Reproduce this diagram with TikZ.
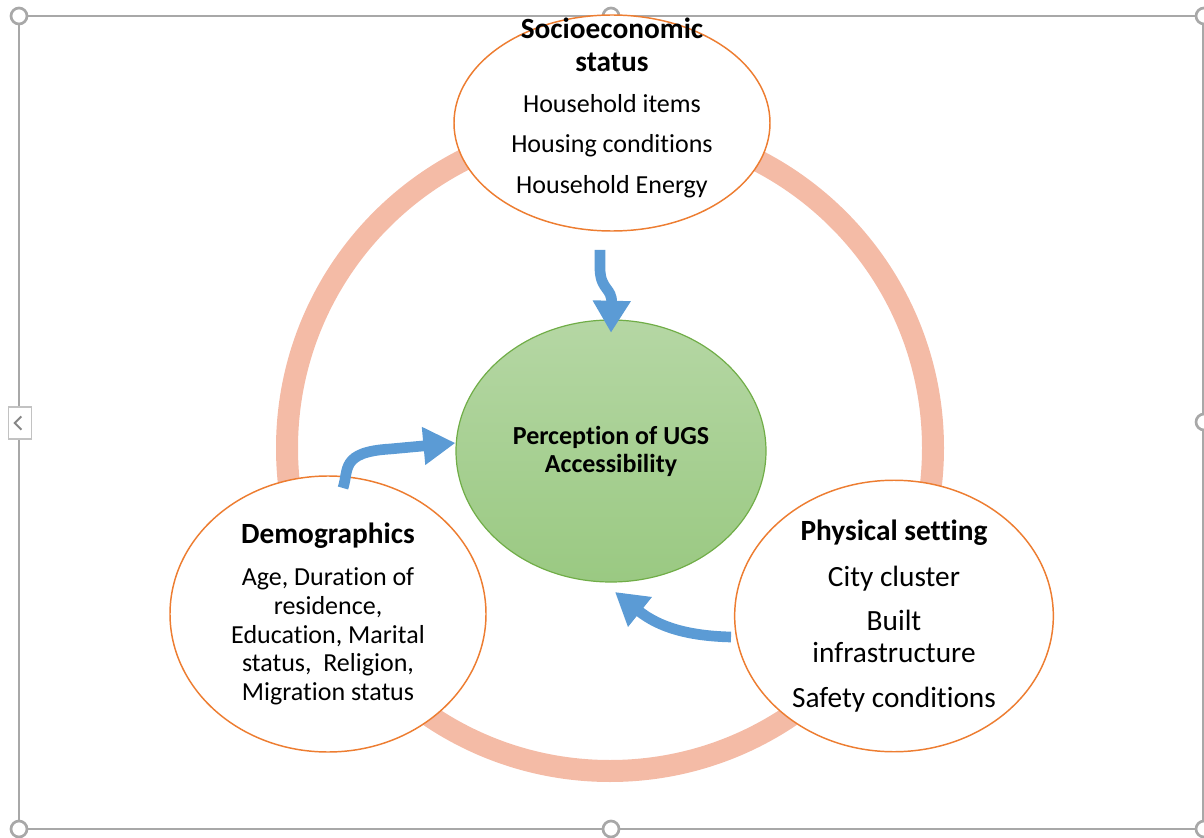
\documentclass[tikz,border=0pt]{standalone}
\usepackage{fontspec}
\setmainfont{Carlito}[RawFeature={-liga}]
\usetikzlibrary{arrows.meta,shapes.geometric,calc}
\definecolor{ringc}{RGB}{244,187,166}
\definecolor{edge}{RGB}{237,125,49}
\definecolor{flowc}{RGB}{91,155,213}
\definecolor{ugstop}{RGB}{181,215,164}
\definecolor{ugsbot}{RGB}{154,201,130}
\definecolor{ugsedge}{RGB}{112,173,71}
\definecolor{framec}{RGB}{168,168,168}
\newcommand{\hd}[1]{{\fontsize{22}{26}\selectfont\bfseries #1}}
\tikzset{
  factor/.style={draw=edge, line width=1.1pt, ellipse, fill=white, inner sep=0pt, align=center,
    font=\fontsize{19.5}{21.5}\selectfont},
  core/.style={draw=ugsedge, line width=0.9pt, ellipse, top color=ugstop, bottom color=ugsbot,
    inner sep=0pt, align=center, font=\fontsize{19.5}{21}\selectfont\bfseries},
  body/.style={align=center, font=\fontsize{19.5}{23.5}\selectfont, inner sep=0pt},
  flow/.style={draw=flowc, line width=8pt, -{Triangle[length=24pt,width=27pt]}},
  handle/.style={circle, draw=framec, line width=2pt, fill=white, minimum size=12pt, inner sep=0pt}
}

\begin{document}
\begin{tikzpicture}[x=0.75pt, y=-0.75pt]
  \useasboundingbox (0,0) rectangle (1204,838);
  % selection frame
  \draw[framec, line width=1.5pt] (19,16) rectangle (1203,829);
  \node[draw=framec!70, fill=white, line width=1pt, minimum width=17pt, minimum height=24pt] (lay) at (20,423) {};
  \draw[framec!80!black, line width=1.5pt] ([xshift=-2pt]lay.center) ++(3pt,5pt) -- ++(-5pt,-5pt) -- ++(5pt,-5pt);
  \foreach \hx/\hy in {19/16, 611/16, 1204/16, 1204/422, 19/829, 611/829, 1204/829}
    \node[handle] at (\hx,\hy) {};

  \node[circle, draw=ringc, line width=16.5pt, minimum size=484.5pt, inner sep=0pt] (ring) at (610,448) {};

  \node[factor, minimum width=237pt, minimum height=162pt] (socio) at (612,123) {};
  \node[body] (sociotxt) at (612,108)
    {\hd{Socioeconomic}\\[1pt]\hd{status}\\[7pt]Household items\\[7pt]Housing conditions\\[7pt]Household Energy};
  \node[core, minimum width=232.5pt, minimum height=196.5pt] (ugs) at (611,451) {Perception of UGS\\Accessibility};
  \node[factor, minimum width=237pt, minimum height=207pt] (demo) at (328,614)
    {\hd{Demographics}\\[10pt]Age, Duration of\\residence,\\Education, Marital\\status,\ \ Religion,\\Migration status};
  \node[factor, minimum width=239pt, minimum height=191pt, font=\fontsize{22}{24}\selectfont] (phys) at (894,616)
    {\hd{Physical setting}\\[10.5pt]City cluster\\[9pt]Built\\infrastructure\\[9.5pt]Safety conditions};

  \coordinate (s1) at (600,250);
  \coordinate (s2) at (343,488);
  \coordinate (s3) at (731,637);
  \draw[flow] (s1) -- (600,270) .. controls (601,290) and (612,288) .. ([yshift=-10pt]ugs.north);
  \draw[flow] (s2) .. controls (349,470) and (340,452) .. (390,449) -- ([yshift=6pt]ugs.west);
  \draw[flow] (s3) .. controls (690,636) and (660,628) .. (615,592);
\end{tikzpicture}
\end{document}
